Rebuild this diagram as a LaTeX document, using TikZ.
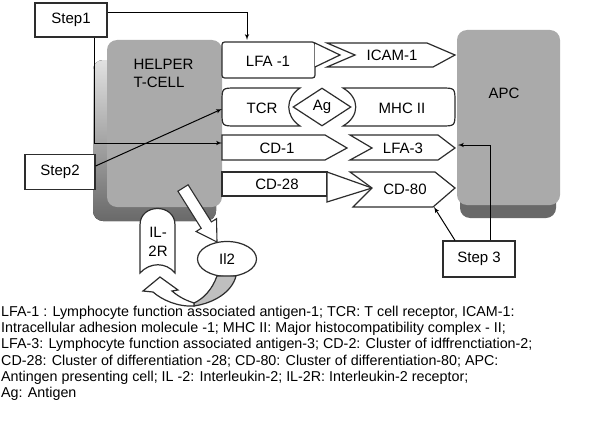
\documentclass[tikz,border=0pt]{standalone}
\usepackage{fontspec}
\setmainfont{Liberation Sans}
\usetikzlibrary{arrows, shapes, positioning}

\definecolor{cellgray}{RGB}{170,170,170}
\definecolor{shadowgray}{RGB}{105,105,105}
\definecolor{linegray}{RGB}{45,45,45}

\tikzset{
	stepbox/.style={draw=linegray, line width=1.2pt, rectangle, fill=white},
	mol/.style={draw=linegray, line width=1.2pt, fill=white},
	link/.style={draw=black, line width=1pt, -latex'}
}

\begin{document}
\begin{tikzpicture}[x=1pt, y=-1pt, every node/.style={font=\fontsize{15}{18}\selectfont}]
\useasboundingbox (0,0) rectangle (596,428);

% cells
\fill [top color=cellgray!35, bottom color=shadowgray, rounded corners=10] (93,60) rectangle (216,221);
\fill [cellgray, rounded corners=10] (107,40) rectangle (222,207);
\fill [shadowgray, rounded corners=10] (460,40) rectangle (556,218);
\fill [cellgray, rounded corners=10] (457,30) rectangle (560,205);

\node [align=left, anchor=base west] (helper) at (130,87) {HELPER\\T-CELL};
\node [anchor=base] (apc) at (504,98) {APC};

% first row
\draw [mol] (315,67) -- (315,72) .. controls (315,78) and (315,78) .. (309,78) -- (228,78)
	.. controls (222,78) and (222,78) .. (222,72) -- (222,48) .. controls (222,42) and (222,42) .. (228,42)
	-- (309,42) .. controls (315,42) and (315,42) .. (315,48) -- cycle;
\draw [mol] (315,43) -- (340,55) -- (315,67);
\draw [mol] (327,43) -- (427,43) -- (455,55) -- (433,67) -- (327,67) -- (355,55) -- cycle;
\node (lfa1) at (268,61) {LFA -1};
\node (icam) at (392,55) {ICAM-1};

% second row
\draw [mol] (300,88) -- (236,88) .. controls (222,88) and (222,88) .. (222,102) -- (222,112)
	.. controls (222,126) and (222,126) .. (236,126) -- (300,126)
	.. controls (285,116) and (285,98) .. cycle;
\draw [mol] (343,88) -- (441,88) .. controls (455,88) and (455,88) .. (455,102) -- (455,112)
	.. controls (455,126) and (455,126) .. (441,126) -- (343,126)
	.. controls (360,116) and (360,98) .. cycle;
\node [mol, diamond, aspect=1.5, minimum width=58pt, minimum height=38pt, inner sep=0pt] (ag) at (322,107) {Ag};
\node (tcr) at (262,108) {TCR};
\node (mhc) at (402,108) {MHC II};

% third row
\draw [mol] (222,135) -- (325,135) -- (347,148) -- (325,160) -- (222,160) -- cycle;
\draw [mol] (350,135) -- (438,135) -- (455,148) -- (438,160) -- (350,160) -- (372,148) -- cycle;
\node (cd1) at (277,148) {CD-1};
\node (lfa3) at (403,148) {LFA-3};

% fourth row
\draw [mol] (222,172) rectangle (327,196);
\draw [mol] (327,172) -- (372,188) -- (327,202) -- cycle;
\draw [mol] (350,172) -- (435,172) -- (455,188) -- (433,207) -- (353,207) -- (372,188) -- cycle;
\node (cd28) at (277,184) {CD-28};
\node (cd80) at (405,189) {CD-80};

% interleukin loop
\draw [mol] (140,273) -- (140,225) .. controls (140,203) and (175,203) .. (175,225) -- (175,273)
	.. controls (166,262) and (150,262) .. cycle;
\node [align=center, font=\fontsize{15}{19}\selectfont] (il2r) at (158,242) {IL-\\2R};
\draw [mol, line width=1.1pt] (188.1,184.8) -- (211.4,221.9) -- (216.5,218.7) -- (217,242)
	-- (196.1,231.5) -- (201.2,228.3) -- (177.9,191.2) -- cycle;
\node [mol, ellipse, minimum width=59pt, minimum height=35pt, inner sep=0pt] (il2) at (227,259) {Il2};
\draw [mol, fill=black!25] (194,306) .. controls (214,303) and (232,292) .. (236,276)
	-- (217,276) .. controls (212,290) and (203,299) .. (194,303) -- cycle;
\draw [mol] (194,306) .. controls (178,307) and (162,300) .. (153,292) -- (143,291) -- (160,277)
	-- (178,290) -- (172,291) .. controls (180,298) and (188,301) .. (194,303) -- cycle;

% steps
\node [stepbox, minimum width=72pt, minimum height=34pt] (step1) at (71,20) {Step1};
\node [stepbox, minimum width=70pt, minimum height=35pt] (step2) at (60,172) {Step2};
\node [stepbox, minimum width=72pt, minimum height=36pt] (step3) at (479,259) {Step 3};

\coordinate (lfatop) at (247,40);
\coordinate (cdin) at (222,143);
\coordinate (tcrin) at (222,109);
\coordinate (apcin) at (458,145);
\coordinate (cd80in) at (434,207);

\path [link] ([yshift=7pt]step1.east) -| (lfatop);
\path [link] ([xshift=23pt]step1.south) |- (cdin);
\path [link] ([yshift=6pt]step2.east) -- (tcrin);
\path [link] ([xshift=11pt]step3.north) |- (apcin);
\path [link] ([xshift=-24pt]step3.north) -- (cd80in);

% legend
\node [align=left, anchor=north west, inner sep=0pt, font=\fontsize{14.3}{16.2}\selectfont] (legend) at (1,306) {
	LFA-1 : Lymphocyte function associated antigen-1; TCR: T cell receptor, ICAM-1:\\
	Intracellular adhesion molecule -1; MHC II: Major histocompatibility complex - II;\\
	LFA-3: Lymphocyte function associated antigen-3; CD-2: Cluster of idffrenctiation-2;\\
	CD-28: Cluster of differentiation -28; CD-80: Cluster of differentiation-80; APC:\\
	Antingen presenting cell; IL -2: Interleukin-2; IL-2R: Interleukin-2 receptor;\\
	Ag: Antigen};

\end{tikzpicture}
\end{document}
